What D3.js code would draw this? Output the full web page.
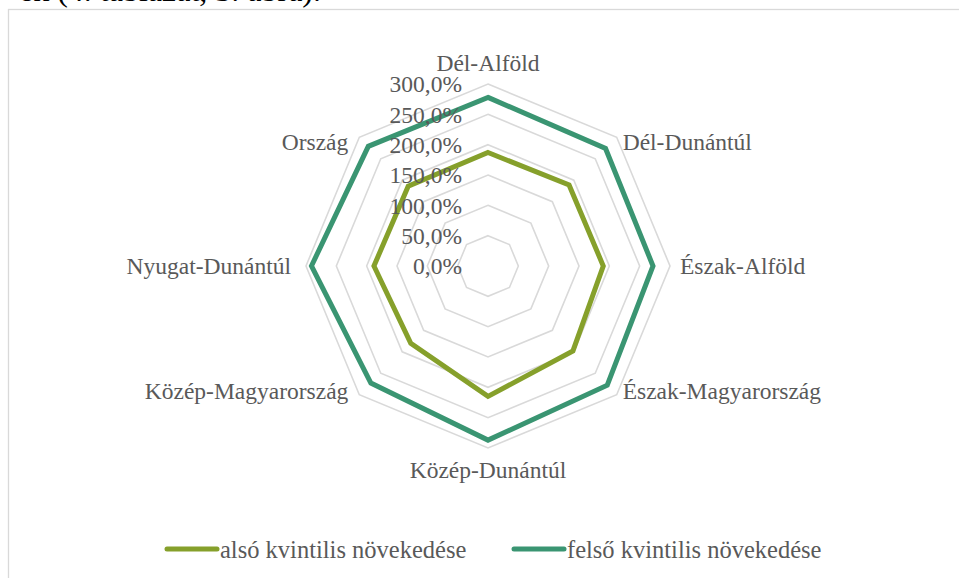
<!DOCTYPE html>
<html>
<head>
<meta charset="utf-8">
<script src="https://cdn.jsdelivr.net/npm/d3@7"></script>
<style>
  html, body { margin: 0; padding: 0; background: #fff; }
  svg { display: block; }
  text { font-family: "Liberation Serif", "Times New Roman", serif; }
</style>
</head>
<body>
<svg id="chart" width="959" height="578"></svg>
<script>
// Regions (clockwise from the top)
const categories = [
  "Dél-Alföld", "Dél-Dunántúl", "Észak-Alföld", "Észak-Magyarország",
  "Közép-Dunántúl", "Közép-Magyarország", "Nyugat-Dunántúl", "Ország"
];
// Growth of the lower and upper quintile, in percent
const alsoValues  = [187, 189, 190, 198, 215, 180, 188, 186];
const felsoValues = [278, 274, 272, 278, 287, 273, 291, 279];
const seriesNames = ["alsó kvintilis növekedése", "felső kvintilis növekedése"];
const radialTicks = [0, 50, 100, 150, 200, 250, 300];

const series = [
  { name: seriesNames[0], values: alsoValues,  color: "#86a02b" },
  { name: seriesNames[1], values: felsoValues, color: "#3a9572" }
];

const svg = d3.select("#chart");
const W = 959, H = 578;
const cx = 488, cy = 266, R = 182;
const textColor = "#595959";
const gridColor = "#d9d9d9";
const labelSize = 23.5;

// Chart frame
svg.append("rect")
  .attr("x", 8.5).attr("y", 9.5)
  .attr("width", W + 20).attr("height", H + 20)
  .attr("fill", "none").attr("stroke", gridColor).attr("stroke-width", 1.3);

// Surrounding sentence above the frame (cut off by the page edge)
svg.append("text")
  .attr("x", 321).attr("y", 1)
  .attr("text-anchor", "end")
  .attr("font-size", 32).attr("fill", "#000")
  .text("ek (4. táblázat, 3. ábra).");

const r = d3.scaleLinear().domain([0, 300]).range([0, R]);
const ang = i => i * 2 * Math.PI / categories.length;

const g = svg.append("g").attr("transform", `translate(${cx},${cy})`);

// Grid polygons
const gridLine = d3.lineRadial()
  .angle((d, i) => ang(i))
  .radius(d => r(d))
  .curve(d3.curveLinearClosed);

radialTicks.filter(t => t > 0).forEach(t => {
  g.append("path")
    .attr("d", gridLine(categories.map(() => t)))
    .attr("fill", "none")
    .attr("stroke", gridColor)
    .attr("stroke-width", 1.6);
});

// Series
const seriesLine = d3.lineRadial()
  .angle((d, i) => ang(i))
  .radius(d => r(d))
  .curve(d3.curveLinearClosed);

series.forEach(s => {
  g.append("path")
    .attr("d", seriesLine(s.values))
    .attr("fill", "none")
    .attr("stroke", s.color)
    .attr("stroke-width", 5)
    .attr("stroke-linejoin", "miter");
});

// Radial axis labels
const fmt = v => d3.format(".1f")(v).replace(".", ",") + "%";
g.selectAll("text.tick")
  .data(radialTicks)
  .join("text")
  .attr("class", "tick")
  .attr("x", -26)
  .attr("y", d => -r(d))
  .attr("dy", "0.35em")
  .attr("text-anchor", "end")
  .attr("font-size", labelSize)
  .attr("fill", textColor)
  .text(fmt);

// Category labels
categories.forEach((c, i) => {
  const a = ang(i);
  const sx = Math.sin(a), sy = -Math.cos(a);
  let x, y, anchor;
  if (Math.abs(sx) < 0.01) {
    anchor = "middle";
    x = 0;
    y = sy < 0 ? -R - 21 : R + 22;
  } else {
    anchor = sx > 0 ? "start" : "end";
    const horiz = Math.abs(sy) < 0.01;
    const pad = sx > 0 ? (horiz ? 10 : 6) : (horiz ? 15 : 11);
    x = R * sx + (sx > 0 ? pad : -pad);
    y = R * sy + (horiz ? 0 : (sy < 0 ? 4 : -4));
  }
  g.append("text")
    .attr("x", x).attr("y", y)
    .attr("dy", "0.35em")
    .attr("text-anchor", anchor)
    .attr("font-size", labelSize)
    .attr("fill", textColor)
    .text(c);
});

// Legend
const legendY = 549;
const legendX = [165, 512];
series.forEach((s, i) => {
  const lg = svg.append("g").attr("transform", `translate(${legendX[i]},${legendY})`);
  lg.append("line")
    .attr("x1", 2).attr("x2", 52)
    .attr("stroke", s.color).attr("stroke-width", 5)
    .attr("stroke-linecap", "round");
  lg.append("text")
    .attr("x", 55).attr("dy", "0.35em")
    .attr("font-size", 24.5)
    .attr("fill", textColor)
    .text(s.name);
});
</script>
</body>
</html>
